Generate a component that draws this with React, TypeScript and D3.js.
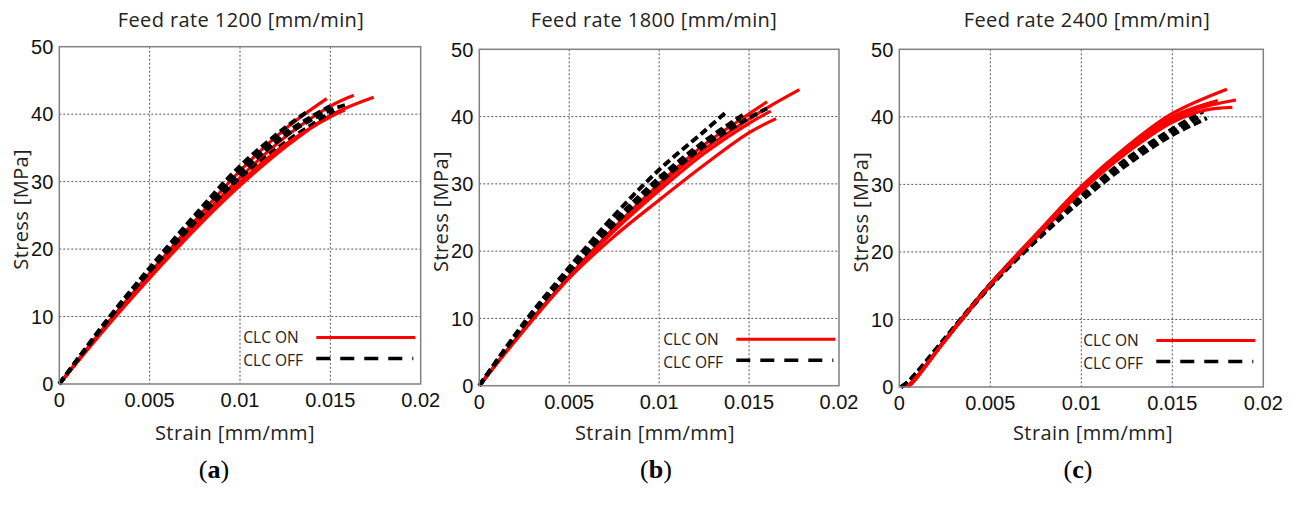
import React from 'react';
import * as d3 from 'd3';

type Pt = [number, number];

// ---------- data ----------
const xTicks = [0, 0.005, 0.01, 0.015, 0.02];
const xTickLabels = ['0', '0.005', '0.01', '0.015', '0.02'];
const yTicks = [0, 10, 20, 30, 40, 50];
const yTickLabels = ['0', '10', '20', '30', '40', '50'];
const titles = ['Feed rate 1200 [mm/min]', 'Feed rate 1800 [mm/min]', 'Feed rate 2400 [mm/min]'];
const subLabels = ['a', 'b', 'c'];
const legendLabels = ['CLC ON', 'CLC OFF'];
const xLabel = 'Strain [mm/mm]';
const yLabel = 'Stress [MPa]';

// Feed rate 1200 — CLC ON (red) / CLC OFF (black dashed)
const on1200: Pt[][] = [
  [[0, 0], [0.0025, 8.5], [0.005, 16.4], [0.0075, 24.2], [0.01, 31.6], [0.0125, 37.8], [0.0148, 42.3]],
  [[0, 0], [0.0025, 8.3], [0.005, 16.1], [0.0075, 23.6], [0.01, 30.6], [0.0125, 36.6], [0.015, 41.2], [0.0163, 42.8]],
  [[0, 0], [0.0025, 8.1], [0.005, 15.7], [0.0075, 22.9], [0.01, 29.4], [0.0125, 35.1], [0.015, 39.8], [0.0174, 42.5]],
  [[0, 0], [0.0025, 8.2], [0.005, 15.9], [0.0075, 23.2], [0.01, 29.9], [0.0125, 35.5], [0.015, 39.6], [0.0158, 40.6]],
];
const off1200: Pt[][] = [
  [[0, 0], [0.0025, 9.0], [0.005, 17.2], [0.0075, 25.0], [0.01, 32.3], [0.0125, 38.0], [0.0138, 40.5]],
  [[0, 0], [0.0025, 8.8], [0.005, 16.8], [0.0075, 24.3], [0.01, 31.2], [0.0125, 36.8], [0.015, 40.6], [0.0159, 41.4]],
  [[0, 0], [0.0025, 8.6], [0.005, 16.4], [0.0075, 23.6], [0.01, 30.4], [0.0125, 35.8], [0.015, 40.2], [0.0152, 40.6]],
  [[0, 0], [0.0025, 8.8], [0.005, 16.9], [0.0075, 24.6], [0.01, 31.6], [0.0125, 37.2], [0.015, 41.2]],
];

// Feed rate 1800
const on1800: Pt[][] = [
  [[0, 0], [0.0025, 8.4], [0.005, 16.2], [0.0075, 23.3], [0.01, 29.6], [0.0125, 35.1], [0.015, 39.6], [0.016, 41.3], [0.0178, 44.0]],
  [[0, 0], [0.0025, 8.5], [0.005, 16.3], [0.0075, 23.5], [0.01, 30.0], [0.0125, 35.8], [0.015, 40.4], [0.016, 42.2]],
  [[0, 0], [0.0025, 8.3], [0.005, 16.0], [0.0075, 22.2], [0.01, 27.6], [0.0125, 32.8], [0.015, 37.6], [0.0165, 39.7]],
  [[0, 0], [0.0025, 8.4], [0.005, 16.1], [0.0075, 23.0], [0.01, 29.0], [0.0125, 34.5], [0.015, 39.0], [0.0162, 40.8]],
];
const off1800: Pt[][] = [
  [[0, 0], [0.0025, 9.4], [0.005, 17.6], [0.0075, 25.3], [0.01, 32.1], [0.0125, 37.8], [0.0137, 40.6]],
  [[0, 0], [0.0025, 9.2], [0.005, 17.2], [0.0075, 24.5], [0.01, 30.9], [0.0125, 36.3], [0.0148, 40.5]],
  [[0, 0], [0.0025, 9.0], [0.005, 16.9], [0.0075, 24.0], [0.01, 30.2], [0.0125, 35.6], [0.015, 39.8], [0.016, 41.2]],
  [[0, 0], [0.0025, 9.1], [0.005, 17.0], [0.0075, 24.2], [0.01, 30.5], [0.0125, 35.9], [0.0145, 39.8]],
];

// Feed rate 2400
const on2400: Pt[][] = [
  [[0.0005, 0], [0.001, 1.6], [0.0025, 7.0], [0.005, 15.3], [0.0075, 22.6], [0.01, 29.7], [0.0125, 35.6], [0.015, 40.5], [0.018, 44.1]],
  [[0.0005, 0], [0.001, 1.5], [0.0025, 6.8], [0.005, 15.1], [0.0075, 22.2], [0.01, 29.3], [0.0125, 35.0], [0.015, 39.6], [0.0165, 41.3], [0.0185, 42.5]],
  [[0.0005, 0], [0.001, 1.5], [0.0025, 6.8], [0.005, 15.0], [0.0075, 22.0], [0.01, 29.0], [0.0125, 34.7], [0.015, 39.2], [0.0168, 41.0], [0.0183, 41.4]],
  [[0.0004, 0], [0.001, 1.7], [0.0025, 6.9], [0.005, 15.2], [0.0075, 22.3], [0.01, 29.5], [0.0125, 35.3], [0.015, 40.0], [0.0175, 42.4]],
];
const off2400: Pt[][] = [
  [[0.0001, 0], [0.0005, 0.8], [0.0025, 7.2], [0.005, 15.2], [0.0075, 22.0], [0.01, 28.3], [0.0125, 33.8], [0.015, 38.2], [0.0167, 40.8]],
  [[0.0001, 0], [0.0005, 0.7], [0.0025, 7.0], [0.005, 14.9], [0.0075, 21.6], [0.01, 27.6], [0.0125, 32.9], [0.015, 37.3], [0.0169, 39.8]],
  [[0.0001, 0], [0.0005, 0.8], [0.0025, 7.1], [0.005, 15.0], [0.0075, 21.8], [0.01, 28.0], [0.0125, 33.4], [0.015, 37.8], [0.0165, 40.0]],
];

const onSets = [on1200, on1800, on2400];
const offSets = [off1200, off1800, off2400];

// ---------- layout ----------
const layout = [
  { l: 59.3, t: 46.7, r: 420.7, b: 384, titleX: 241, xLabX: 235, yLabX: 21, subX: 214 },
  { l: 479.3, t: 49.3, r: 839, b: 385.7, titleX: 654, xLabX: 655, yLabX: 441, subX: 656 },
  { l: 899.3, t: 49.3, r: 1263.3, b: 387, titleX: 1087, xLabX: 1093, yLabX: 861, subX: 1078 },
];

const RED = '#ff0000';
const sansTitle = "'Open Sans', sans-serif";
const sansTick = "'Liberation Sans', Arial, sans-serif";

function Panel({ i }: { i: number }) {
  const L = layout[i];
  const x = d3.scaleLinear().domain([0, 0.02]).range([L.l, L.r]);
  const y = d3.scaleLinear().domain([0, 50]).range([L.b, L.t]);
  const line = d3
    .line<Pt>()
    .x((d) => x(d[0]))
    .y((d) => y(d[1]))
    .curve(d3.curveCatmullRom.alpha(0.5));
  const ons = onSets[i];
  const offs = offSets[i];
  const order: { d: Pt[]; on: boolean }[] = [];
  const n = Math.max(ons.length, offs.length);
  for (let k = 0; k < n; k++) {
    if (ons[k]) order.push({ d: ons[k], on: true });
    if (offs[k]) order.push({ d: offs[k], on: false });
  }
  const midY = (L.t + L.b) / 2 - 6;
  const legX = L.l + 184;
  return (
    <g>
      {xTicks.slice(1, -1).map((v) => (
        <line key={'gx' + v} x1={x(v)} x2={x(v)} y1={L.t} y2={L.b} stroke="#555" strokeWidth={1} strokeDasharray="2,2" />
      ))}
      {yTicks.slice(1, -1).map((v) => (
        <line key={'gy' + v} x1={L.l} x2={L.r} y1={y(v)} y2={y(v)} stroke="#555" strokeWidth={1} strokeDasharray="2,2" />
      ))}
      {order.map((o, k) =>
        o.on ? (
          <path key={k} d={line(o.d) || ''} fill="none" stroke={RED} strokeWidth={3.2} />
        ) : (
          <path key={k} d={line(o.d) || ''} fill="none" stroke="#000" strokeWidth={4} strokeDasharray="8,4" />
        )
      )}
      <rect x={L.l} y={L.t} width={L.r - L.l} height={L.b - L.t} fill="none" stroke="#808080" strokeWidth={1.5} />
      {xTicks.map((v, k) => (
        <text key={'xt' + v} x={x(v)} y={L.b + 23} textAnchor="middle" fontFamily={sansTick} fontSize={20} fill="#111">
          {xTickLabels[k]}
        </text>
      ))}
      {yTicks.map((v, k) => (
        <text key={'yt' + v} x={L.l - 6} y={y(v)} dy="0.36em" textAnchor="end" fontFamily={sansTick} fontSize={20} fill="#111">
          {yTickLabels[k]}
        </text>
      ))}
      <text x={L.titleX} y={27} textAnchor="middle" fontFamily={sansTitle} fontSize={20} letterSpacing={0.4} fill="#222">
        {titles[i]}
      </text>
      <text x={L.xLabX} y={440} textAnchor="middle" fontFamily={sansTitle} fontSize={20} letterSpacing={0.4} fill="#222">
        {xLabel}
      </text>
      <text
        transform={`translate(${L.yLabX},${midY}) rotate(-90)`}
        textAnchor="middle"
        dy="0.35em"
        fontFamily={sansTitle}
        fontSize={20}
        letterSpacing={0.4}
        fill="#222"
      >
        {yLabel}
      </text>
      <text x={legX} y={L.b - 46} dy="0.35em" fontFamily={sansTitle} fontSize={15.5} fill="#222">
        {legendLabels[0]}
      </text>
      <line x1={L.l + 257} x2={L.l + 356} y1={L.b - 46.5} y2={L.b - 46.5} stroke={RED} strokeWidth={3} />
      <text x={legX} y={L.b - 23} dy="0.35em" fontFamily={sansTitle} fontSize={15.5} fill="#222">
        {legendLabels[1]}
      </text>
      <line x1={L.l + 257} x2={L.l + 354} y1={L.b - 25.5} y2={L.b - 25.5} stroke="#000" strokeWidth={3.5} strokeDasharray="14,10" />
      <text x={layout[i].subX} y={478} textAnchor="middle" fontFamily="'Liberation Serif', 'Times New Roman', serif" fontSize={26} fill="#000">
        (<tspan fontWeight="bold">{subLabels[i]}</tspan>)
      </text>
    </g>
  );
}

export default function App() {
  return (
    <svg
      width={1293}
      height={515}
      style={{ position: 'absolute', left: 0, top: 0, background: '#fff' }}
      xmlns="http://www.w3.org/2000/svg"
    >
      <rect x={0} y={0} width={1293} height={515} fill="#fff" />
      {[0, 1, 2].map((i) => (
        <Panel key={i} i={i} />
      ))}
    </svg>
  );
}
